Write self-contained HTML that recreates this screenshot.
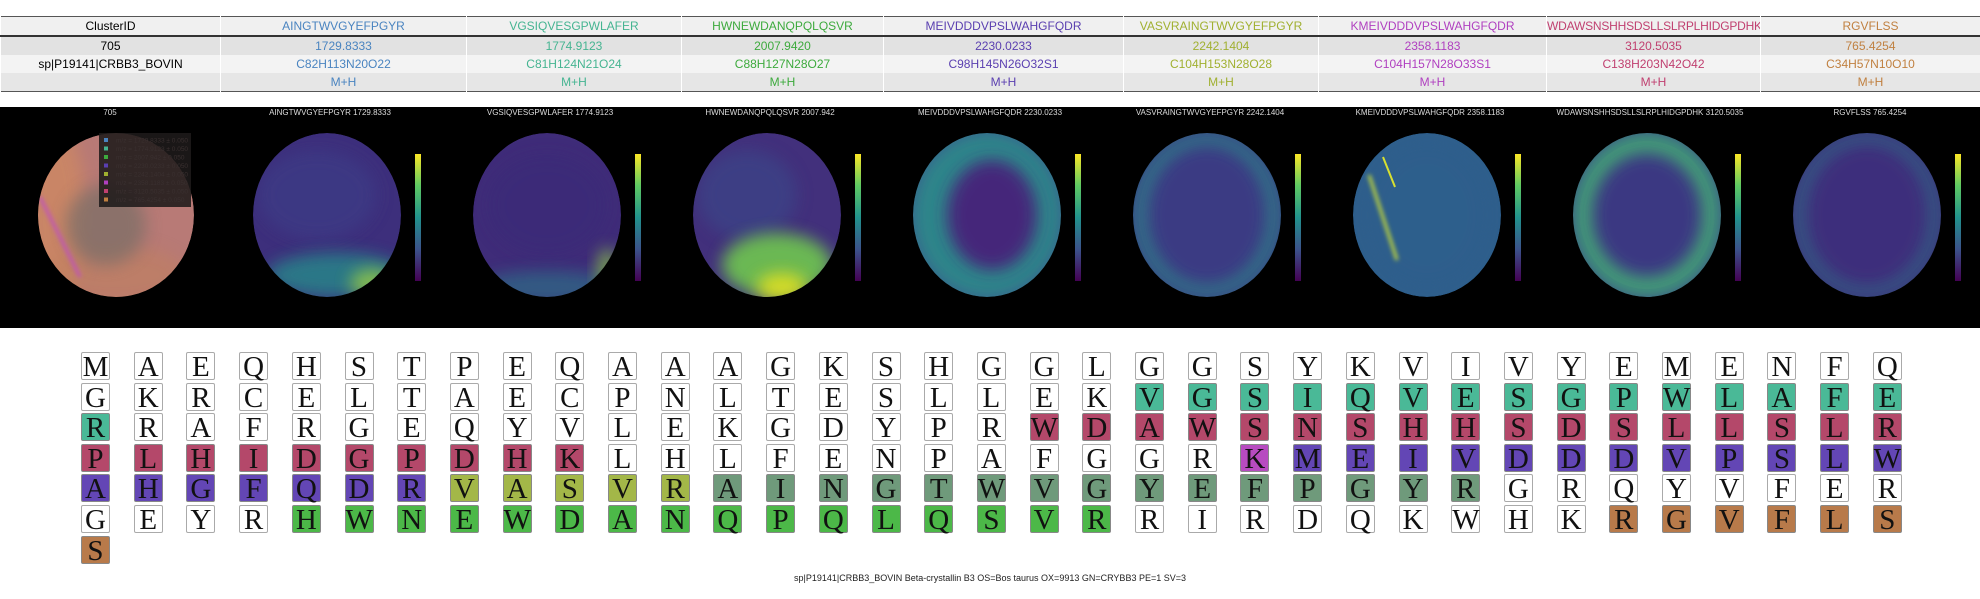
<!DOCTYPE html>
<html><head><meta charset="utf-8">
<style>
body{margin:0;width:1980px;height:599px;background:#fff;position:relative;overflow:hidden;font-family:"Liberation Sans",Arial,sans-serif}
table{position:absolute;left:0;top:16px;width:1980px;border-collapse:collapse;table-layout:fixed;font-size:12px;border:1.5px solid #555}
td{height:18px;padding:0;text-align:center;border-left:1px solid #fff;white-space:nowrap;overflow:hidden}
tr.h td{background:#f0f0f0;border-bottom:2px solid #333}
tr.r1 td{background:#e2e2e2}
tr.r2 td{background:#f3f3f3}
tr.r3 td{background:#e6e6e6}
#panel{position:absolute;left:0;top:107px}
.box{position:absolute;width:27px;height:26px;border:1px solid #aaa;border-radius:2px;box-sizing:content-box;font-family:"Liberation Serif","DejaVu Serif",serif;font-size:29px;line-height:28px;text-align:center;color:#111;background:#fff}
#caption{position:absolute;left:0;width:1980px;top:573px;text-align:center;font-size:9px;color:#222}
</style></head><body>
<table>
<colgroup><col style="width:220px"><col style="width:246px"><col style="width:215px"><col style="width:202px"><col style="width:240px"><col style="width:195px"><col style="width:228px"><col style="width:214px"><col style="width:220px"></colgroup>
<tr class="h"><td>ClusterID</td><td style="color:#4a84c0">AINGTWVGYEFPGYR</td><td style="color:#45b491">VGSIQVESGPWLAFER</td><td style="color:#3daa3d">HWNEWDANQPQLQSVR</td><td style="color:#5a3fb0">MEIVDDDVPSLWAHGFQDR</td><td style="color:#a0b030">VASVRAINGTWVGYEFPGYR</td><td style="color:#b040c0">KMEIVDDDVPSLWAHGFQDR</td><td style="color:#c04070;letter-spacing:-0.2px">WDAWSNSHHSDSLLSLRPLHIDGPDHK</td><td style="color:#c08040">RGVFLSS</td></tr>
<tr class="r1"><td>705</td><td style="color:#4a84c0">1729.8333</td><td style="color:#45b491">1774.9123</td><td style="color:#3daa3d">2007.9420</td><td style="color:#5a3fb0">2230.0233</td><td style="color:#a0b030">2242.1404</td><td style="color:#b040c0">2358.1183</td><td style="color:#c04070">3120.5035</td><td style="color:#c08040">765.4254</td></tr>
<tr class="r2"><td>sp|P19141|CRBB3_BOVIN</td><td style="color:#4a84c0">C82H113N20O22</td><td style="color:#45b491">C81H124N21O24</td><td style="color:#3daa3d">C88H127N28O27</td><td style="color:#5a3fb0">C98H145N26O32S1</td><td style="color:#a0b030">C104H153N28O28</td><td style="color:#b040c0">C104H157N28O33S1</td><td style="color:#c04070">C138H203N42O42</td><td style="color:#c08040">C34H57N10O10</td></tr>
<tr class="r3"><td></td><td style="color:#4a84c0">M+H</td><td style="color:#45b491">M+H</td><td style="color:#3daa3d">M+H</td><td style="color:#5a3fb0">M+H</td><td style="color:#a0b030">M+H</td><td style="color:#b040c0">M+H</td><td style="color:#c04070">M+H</td><td style="color:#c08040">M+H</td></tr>
</table>

<svg id="panel" width="1980" height="221">
<defs>
<linearGradient id="vir" x1="0" y1="1" x2="0" y2="0">
<stop offset="0" stop-color="#440154"/><stop offset=".25" stop-color="#3b528b"/><stop offset=".5" stop-color="#21918c"/><stop offset=".75" stop-color="#5ec962"/><stop offset="1" stop-color="#fde725"/></linearGradient>
<filter id="bl" x="-50%" y="-50%" width="200%" height="200%"><feGaussianBlur stdDeviation="8"/></filter>
<filter id="bl2" x="-50%" y="-50%" width="200%" height="200%"><feGaussianBlur stdDeviation="2"/></filter>
</defs>
<rect width="1980" height="221" fill="#000"/>
</svg>

<div id="grid"></div>
<div id="caption">sp|P19141|CRBB3_BOVIN Beta-crystallin B3 OS=Bos taurus OX=9913 GN=CRYBB3 PE=1 SV=3</div>

<script>
// ---- data ----
const sequence = "MAEQHSTPEQAAAGKSHGGLGGSYKVIVYEMENFQGKRCELTAECPNLTESLLEKVGSIQVESGPWLAFERRAFRGEQYVLEKGDYPRWDAWSNSHHSDSLLSLRPLHIDGPDHKLHLFENPAFGGRKMEIVDDDVPSLWAHGFQDRVASVRAINGTWVGYEFPGYRGRQYVFERGEYRHWNEWDANQPQLQSVRRIRDQKWHKRGVFLSS";
const peptides = ["AINGTWVGYEFPGYR","VGSIQVESGPWLAFER","HWNEWDANQPQLQSVR","MEIVDDDVPSLWAHGFQDR","VASVRAINGTWVGYEFPGYR","KMEIVDDDVPSLWAHGFQDR","WDAWSNSHHSDSLLSLRPLHIDGPDHK","RGVFLSS"];
const masses = ["1729.8333","1774.9123","2007.942","2230.0233","2242.1404","2358.1183","3120.5035","765.4254"];
const seqColors = ["#6f9a7b","#4ab997","#4cb848","#6346b5","#a3b748","#b74bc0","#b4486a","#b87a4a"];
const paintOrder = [4,0,1,2,5,3,6,7];
const perRow = 35;

// ---- sequence grid ----
const colorAt = new Array(sequence.length).fill(null);
paintOrder.forEach(p => {
  const s = sequence.indexOf(peptides[p]);
  if (s < 0) return;
  for (let k = s; k < s + peptides[p].length; k++) colorAt[k] = seqColors[p];
});
const grid = document.getElementById('grid');
for (let i = 0; i < sequence.length; i++) {
  const d = document.createElement('div');
  d.className = 'box';
  
  
  d.style.left = (81 + (i % perRow) * 52.7) + 'px';
  d.style.top = (352 + Math.floor(i / perRow) * 30.6) + 'px';
  if (colorAt[i]) { d.style.background = colorAt[i]; d.style.borderColor = '#888'; }
  d.textContent = sequence[i];
  grid.appendChild(d);
}

// ---- ion images ----
const NS = "http://www.w3.org/2000/svg";
const svg = document.getElementById('panel');
function mk(tag, attrs, parent) {
  const e = document.createElementNS(NS, tag);
  for (const k in attrs) e.setAttribute(k, attrs[k]);
  (parent || svg).appendChild(e);
  return e;
}
const titles = ["705"].concat(peptides.map((p, i) => p + " " + masses[i]));
// overlays: [dx,dy,rx,ry,color,opacity]
const bases = ["#b87a76","#3d2f7c","#3f2c79","#42307c","#3a5f8e","#3b3d84","#2f5f8c","#38458a","#3e2d7b"];
const overlays = [
  [[-60,0,30,90,"#d08a60",0.7],[0,60,70,30,"#c08060",0.6],[-10,10,40,40,"#807068",0.8]],
  [[-10,-20,60,45,"#3c3a85",0.8],[10,60,70,22,"#268a8a",0.8],[45,68,22,14,"#a8d83a",0.7]],
  [[0,-10,60,50,"#3b2a78",0.6],[0,72,70,16,"#2a7a8a",0.6],[60,55,10,22,"#90d040",0.7]],
  [[-20,-20,50,45,"#3b4a8a",0.6],[10,50,55,32,"#70c850",0.9],[15,72,25,14,"#e0e020",0.9]],
  [[0,0,74,82,"#28a088",0.6],[5,0,45,55,"#45287a",1]],
  [[0,0,74,82,"#2a9a8a",0.6],[0,0,60,70,"#3b3a83",1]],
  [[0,0,60,70,"#2e5f8c",0.6]],
  [[0,0,74,82,"#46b872",0.8],[0,0,55,62,"#3b3782",1]],
  [[0,0,74,82,"#2a8a8c",0.5],[0,0,62,72,"#3e2e7b",1]]
];
for (let i = 0; i < 9; i++) {
  const pc = 110 + 220 * i;
  const cx = i === 0 ? 116 : pc - 3, cy = 108, rx = i === 0 ? 78 : 74, ry = 82;
  const g = mk('g', {});
  
  
  const t = mk('text', {x: pc, y: 8, 'text-anchor': 'middle', 'font-size': 8, fill: '#ddd', 'font-family': 'Liberation Sans, sans-serif'}, g);
  
  
  t.textContent = titles[i];
  const cp = mk('clipPath', {id: 'c' + i}, g);
  mk('ellipse', {cx, cy, rx, ry}, cp);
  const inner = mk('g', {'clip-path': 'url(#c' + i + ')'}, g);
  mk('ellipse', {cx, cy, rx, ry, fill: bases[i]}, inner);
  overlays[i].forEach(o => {
    mk('ellipse', {cx: cx + o[0], cy: cy + o[1], rx: o[2], ry: o[3], fill: o[4], opacity: o[5], filter: 'url(#bl)'}, inner);
  });
  if (i === 6) {
    mk('line', {x1: cx - 58, y1: cy - 40, x2: cx - 30, y2: cy + 45, stroke: '#c8dc38', 'stroke-width': 3, filter: 'url(#bl2)'}, inner);
    mk('line', {x1: cx - 44, y1: cy - 58, x2: cx - 32, y2: cy - 28, stroke: '#d8e030', 'stroke-width': 2}, inner);
  }
  if (i === 0) {
    mk('line', {x1: 40, y1: 90, x2: 80, y2: 170, stroke: '#c050c0', 'stroke-width': 3, filter: 'url(#bl2)'}, inner);
  }
  if (i > 0) {
    const cb = mk('rect', {x: pc + 85, y: 47, width: 6, height: 127, fill: 'url(#vir)'}, g);
    
    
  }
}
// legend of overlay image
const lg = mk('g', {});


mk('rect', {x: 99, y: 26, width: 92, height: 74, fill: '#1e1a1a', opacity: 0.88}, lg);
const lcp = mk('clipPath', {id: 'lc'}, lg);
mk('rect', {x: 99, y: 26, width: 92, height: 74}, lcp);
const legendColors = ["#4a84c0","#45b491","#3daa3d","#5a3fb0","#a0b030","#b040c0","#c04070","#c08040"];
for (let k = 0; k < 8; k++) {
  const y = 31 + k * 8.5;
  const sq = mk('rect', {x: 104, y: y, width: 4, height: 4, fill: legendColors[k]}, lg);
  
  
  const tx = mk('text', {x: 116, y: y + 4.5, 'font-size': 6.5, fill: '#3a3030', 'clip-path': 'url(#lc)', 'font-family': 'Liberation Sans, sans-serif'}, lg);
  
  
  tx.textContent = 'm/z = ' + masses[k] + ' \u00b1 0.050';
}
</script>
</body></html>
